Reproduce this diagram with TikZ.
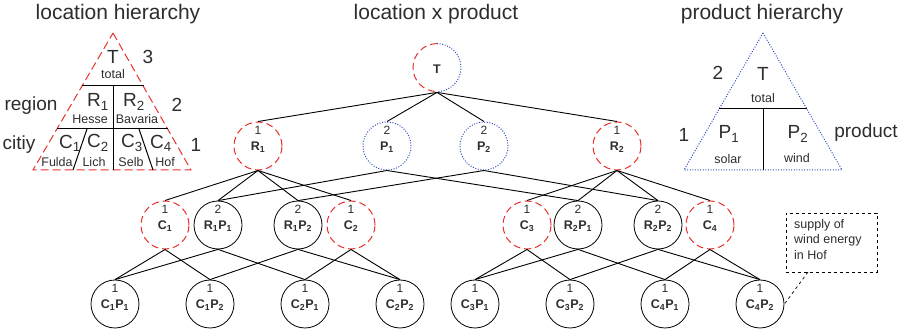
\documentclass[tikz,border=0pt]{standalone}
\usepackage{fontspec}
\setmainfont{Liberation Sans}
\definecolor{myred}{RGB}{232,48,44}
\definecolor{myblue}{RGB}{50,80,190}
\definecolor{txtgray}{RGB}{45,45,45}
\tikzset{
  txt/.style={text=txtgray, inner sep=0pt},
  ttl/.style={txt, font=\fontsize{21}{24}\selectfont},
  big/.style={txt, font=\fontsize{19}{22}\selectfont},
  sml/.style={txt, font=\fontsize{12.5}{14}\selectfont},
  lvl/.style={txt, font=\fontsize{12}{13}\selectfont},
  nm/.style={txt, font=\fontsize{12.5}{13}\selectfont\bfseries},
  nd/.style={circle, draw=black, line width=0.8pt, minimum size=48pt, inner sep=0pt},
  rednd/.style={nd, draw=myred, dash pattern=on 7pt off 4pt, line width=1pt},
  bluend/.style={nd, draw=myblue, dash pattern=on 1pt off 1.6pt, line width=1pt},
  edge/.style={line width=0.9pt, black},
  divline/.style={line width=1pt, black},
  redtri/.style={draw=myred, dash pattern=on 8pt off 4pt, line width=1pt},
  bluetri/.style={draw=myblue, dash pattern=on 1pt off 1.6pt, line width=1pt},
  callout/.style={draw=black, dashed, line width=0.8pt, minimum width=91pt, minimum height=59pt, inner sep=0pt},
}
\newcommand{\cnode}[6]{%
  \node[#1] (#2) at (#3,#4) {};
  \node[lvl] (#2l) at (#3,#4-16) {#5};
  \node[nm] (#2n) at (#3,#4+1.5) {#6};}
\begin{document}
\begin{tikzpicture}[x=1pt,y=-1pt]
\useasboundingbox (0,0) rectangle (902,336);

% titles
\node[ttl] (t1) at (118,14) {location hierarchy};
\node[ttl] (t2) at (436,14) {location x product};
\node[ttl] (t3) at (762,14) {product hierarchy};

% ---------- location hierarchy triangle ----------
\coordinate (la) at (113,33);
\coordinate (lb) at (191,170);
\coordinate (lc) at (33,170);
\draw[redtri] (la) -- (lb) -- (lc) -- cycle;
\coordinate (lh1a) at (82,86);  \coordinate (lh1b) at (144,86);
\coordinate (lh2a) at (57,129); \coordinate (lh2b) at (168,129);
\coordinate (lv1) at (113,86);  \coordinate (lv2) at (113,170);
\coordinate (ld1a) at (87,129); \coordinate (ld1b) at (73,170);
\coordinate (ld2a) at (139,129); \coordinate (ld2b) at (153,170);
\draw[divline] (lh1a) -- (lh1b);
\draw[divline] (lh2a) -- (lh2b);
\draw[divline] (lv1) -- (lv2);
\draw[divline] (ld1a) -- (ld1b);
\draw[divline] (ld2a) -- (ld2b);
\node[big] (lT) at (113,57) {T};
\node[sml] (ltot) at (113,74) {total};
\node[big] (l3) at (148,57) {3};
\node[big] (lR1) at (98,102) {R\textsubscript{1}};
\node[sml] (lHes) at (90,119) {Hesse};
\node[big] (lR2) at (134,102) {R\textsubscript{2}};
\node[sml] (lBav) at (137,119) {Bavaria};
\node[big] (l2) at (177,105) {2};
\node[big] (lreg) at (31,106) {region};
\node[big] (lcit) at (19,145) {citiy};
\node[big] (lC1) at (70,143) {C\textsubscript{1}};
\node[big] (lC2) at (98,143) {C\textsubscript{2}};
\node[big] (lC3) at (132,143) {C\textsubscript{3}};
\node[big] (lC4) at (161,143) {C\textsubscript{4}};
\node[sml] (lFul) at (57,162) {Fulda};
\node[sml] (lLic) at (94,162) {Lich};
\node[sml] (lSel) at (131,162) {Selb};
\node[sml] (lHof) at (165,162) {Hof};
\node[big] (l1) at (196,145) {1};

% ---------- product hierarchy triangle ----------
\coordinate (pa) at (763,33);
\coordinate (pb) at (842,170);
\coordinate (pc) at (684,170);
\draw[bluetri] (pa) -- (pb) -- (pc) -- cycle;
\coordinate (ph1) at (719,109); \coordinate (ph2) at (807,109);
\coordinate (pv1) at (763,109); \coordinate (pv2) at (763,170);
\draw[divline] (ph1) -- (ph2);
\draw[divline] (pv1) -- (pv2);
\node[big] (pT) at (763,74) {T};
\node[sml] (ptot) at (763,98) {total};
\node[big] (p2) at (718,73) {2};
\node[big] (p1) at (684,135) {1};
\node[big] (pP1) at (729,134) {P\textsubscript{1}};
\node[sml] (psol) at (728,159) {solar};
\node[big] (pP2) at (798,134) {P\textsubscript{2}};
\node[sml] (pwin) at (797,158) {wind};
\node[big] (pprod) at (866,133) {product};

% ---------- lattice ----------
\node[nd, draw=none] (T) at (437,68) {};
\draw[myred, dash pattern=on 7pt off 4pt, line width=1pt] (T.north) arc[start angle=270, end angle=90, radius=24];
\draw[myblue, dash pattern=on 1pt off 1.6pt, line width=1pt] (T.north) arc[start angle=270, end angle=450, radius=24];
\node[nm] (Tn) at (437,69) {T};

\cnode{rednd}{R1}{258}{146}{1}{R\textsubscript{1}}
\cnode{bluend}{P1}{387}{146}{2}{P\textsubscript{1}}
\cnode{bluend}{P2}{484}{146}{2}{P\textsubscript{2}}
\cnode{rednd}{R2}{617}{146}{1}{R\textsubscript{2}}

\cnode{rednd}{C1}{165}{225}{1}{C\textsubscript{1}}
\cnode{nd}{R1P1}{218}{225}{2}{R\textsubscript{1}P\textsubscript{1}}
\cnode{nd}{R1P2}{298}{225}{2}{R\textsubscript{1}P\textsubscript{2}}
\cnode{rednd}{C2}{351}{225}{1}{C\textsubscript{2}}
\cnode{rednd}{C3}{527}{225}{1}{C\textsubscript{3}}
\cnode{nd}{R2P1}{578}{225}{2}{R\textsubscript{2}P\textsubscript{1}}
\cnode{nd}{R2P2}{658}{225}{2}{R\textsubscript{2}P\textsubscript{2}}
\cnode{rednd}{C4}{710}{225}{1}{C\textsubscript{4}}

\cnode{nd}{C1P1}{115}{304}{1}{C\textsubscript{1}P\textsubscript{1}}
\cnode{nd}{C1P2}{210}{304}{1}{C\textsubscript{1}P\textsubscript{2}}
\cnode{nd}{C2P1}{305}{304}{1}{C\textsubscript{2}P\textsubscript{1}}
\cnode{nd}{C2P2}{400}{304}{1}{C\textsubscript{2}P\textsubscript{2}}
\cnode{nd}{C3P1}{475}{304}{1}{C\textsubscript{3}P\textsubscript{1}}
\cnode{nd}{C3P2}{570}{304}{1}{C\textsubscript{3}P\textsubscript{2}}
\cnode{nd}{C4P1}{665}{304}{1}{C\textsubscript{4}P\textsubscript{1}}
\cnode{nd}{C4P2}{760}{304}{1}{C\textsubscript{4}P\textsubscript{2}}

% edges
\foreach \c in {R1,P1,P2,R2} \draw[edge] (T.south) -- (\c.north);
\foreach \c in {C1,R1P1,R1P2,C2} \draw[edge] (R1.south) -- (\c.north);
\foreach \c in {C3,R2P1,R2P2,C4} \draw[edge] (R2.south) -- (\c.north);
\foreach \c in {R1P1,R2P1} \draw[edge] (P1.south) -- (\c.north);
\foreach \c in {R1P2,R2P2} \draw[edge] (P2.south) -- (\c.north);
\foreach \c in {C1P1,C1P2} \draw[edge] (C1.south) -- (\c.north);
\foreach \c in {C1P1,C2P1} \draw[edge] (R1P1.south) -- (\c.north);
\foreach \c in {C1P2,C2P2} \draw[edge] (R1P2.south) -- (\c.north);
\foreach \c in {C2P1,C2P2} \draw[edge] (C2.south) -- (\c.north);
\foreach \c in {C3P1,C3P2} \draw[edge] (C3.south) -- (\c.north);
\foreach \c in {C3P1,C4P1} \draw[edge] (R2P1.south) -- (\c.north);
\foreach \c in {C3P2,C4P2} \draw[edge] (R2P2.south) -- (\c.north);
\foreach \c in {C4P1,C4P2} \draw[edge] (C4.south) -- (\c.north);

% callout
\node[callout] (note) at (831.5,242.5) {};
\node[txt, font=\fontsize{12.5}{15.5}\selectfont, align=left, anchor=north west] (notet) at (794,219) {supply of\\wind energy\\in Hof};
\coordinate (nb) at (808,272);
\draw[dashed, line width=0.7pt] (nb) -- (C4P2.east);
\end{tikzpicture}
\end{document}
